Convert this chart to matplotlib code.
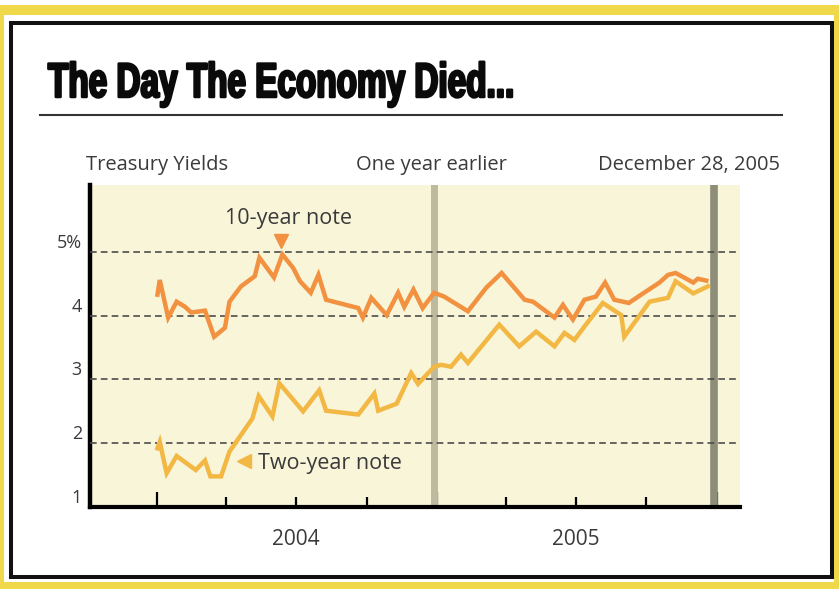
import matplotlib
matplotlib.use('Agg')
import matplotlib.dates as mdates
import matplotlib.pyplot as plt
import numpy as np

from matplotlib import patheffects
from matplotlib.lines import Line2D
from matplotlib.patches import Rectangle
from matplotlib.transforms import Affine2D, ScaledTranslation

W, H = 839, 589

plt.rcParams.update({
  'font.family': ['Open Sans', 'DejaVu Sans'],
  'text.color': '#3a3a3a',
})

# weekly-ish readings, Jan 2004 - Dec 2005
ten_dates = ['2004-01-02', '2004-01-05', '2004-01-16', '2004-01-27', '2004-02-07',
             '2004-02-15', '2004-03-04', '2004-03-16', '2004-03-30', '2004-04-05',
             '2004-04-20', '2004-05-08', '2004-05-14', '2004-06-02', '2004-06-13',
             '2004-06-27', '2004-07-06', '2004-07-20', '2004-07-30', '2004-08-09',
             '2004-09-20', '2004-09-26', '2004-10-07', '2004-10-27', '2004-11-11',
             '2004-11-19', '2004-12-01', '2004-12-13', '2004-12-28', '2005-01-10',
             '2005-02-10', '2005-03-06', '2005-03-26', '2005-04-25', '2005-05-06',
             '2005-06-03', '2005-06-14', '2005-06-27', '2005-07-12', '2005-07-27',
             '2005-08-08', '2005-08-20', '2005-09-08', '2005-09-24', '2005-10-18',
             '2005-10-29', '2005-11-08', '2005-12-01', '2005-12-07', '2005-12-18']
ten_year = [4.33, 4.56, 3.97, 4.22, 4.14, 4.05, 4.08, 3.67, 3.81, 4.22,
            4.46, 4.62, 4.91, 4.60, 4.96, 4.75, 4.54, 4.36, 4.64, 4.25,
            4.12, 3.97, 4.28, 4.01, 4.36, 4.14, 4.41, 4.12, 4.36, 4.30,
            4.07, 4.44, 4.67, 4.25, 4.22, 3.97, 4.17, 3.94, 4.25, 4.30,
            4.52, 4.25, 4.20, 4.33, 4.52, 4.64, 4.67, 4.52, 4.58, 4.55]

two_dates = ['2004-01-02', '2004-01-05', '2004-01-14', '2004-01-27', '2004-02-21',
             '2004-03-04', '2004-03-11', '2004-03-25', '2004-04-05', '2004-04-20',
             '2004-05-05', '2004-05-13', '2004-05-31', '2004-06-09', '2004-07-10',
             '2004-07-31', '2004-08-09', '2004-09-20', '2004-10-11', '2004-10-16',
             '2004-11-09', '2004-11-28', '2004-12-07', '2004-12-28', '2005-01-06',
             '2005-01-19', '2005-02-01', '2005-02-10', '2005-03-23', '2005-04-18',
             '2005-05-10', '2005-06-03', '2005-06-16', '2005-06-29', '2005-07-12',
             '2005-08-05', '2005-08-29', '2005-09-02', '2005-10-05', '2005-10-29',
             '2005-11-08', '2005-12-01', '2005-12-20']
two_year = [1.92, 2.02, 1.53, 1.80, 1.58, 1.73, 1.48, 1.48, 1.87, 2.13,
            2.39, 2.74, 2.42, 2.94, 2.50, 2.83, 2.51, 2.45, 2.78, 2.51,
            2.62, 3.10, 2.93, 3.20, 3.23, 3.20, 3.39, 3.26, 3.86, 3.52,
            3.75, 3.52, 3.73, 3.62, 3.83, 4.20, 4.01, 3.67, 4.22, 4.28,
            4.54, 4.35, 4.46]

y_ticks = [1, 2, 3, 4, 5]
y_labels = ['1', '2', '3', '4', '5%']
year_labels = ['2004', '2005']
marker_dates = ['2004-12-28', '2005-12-28']

ORANGE = '#F2913F'
YELLOW = '#F3B744'


def fx(x):
  return x / W


def fy(y):
  return 1 - y / H


class Squeeze(patheffects.AbstractPathEffect):
  """Narrow glyphs horizontally (and fatten them) for a condensed headline."""
  def __init__(self, sx, stroke=0.0):
    super().__init__()
    self.sx = sx
    self.stroke = stroke

  def draw_path(self, renderer, gc, tpath, affine, rgbFace=None):
    affine = Affine2D().scale(self.sx, 1.0) + affine
    if self.stroke:
      gc0 = renderer.new_gc()
      gc0.copy_properties(gc)
      gc0.set_linewidth(self.stroke)
      gc0.set_foreground(rgbFace)
      renderer.draw_path(gc0, tpath, affine, rgbFace)
      gc0.restore()
    else:
      renderer.draw_path(gc, tpath, affine, rgbFace)


fig = plt.figure(figsize=(W / 100, H / 100), dpi=100)
fig.patch.set_facecolor('white')

# yellow outer band + black frame, kept behind the axes
yellow = '#EFD84A'
for x0, y0, x1, y1 in [(0, 5, W, 15), (0, 5, 4, H), (834, 5, W, H), (0, 582, W, H)]:
  fig.add_artist(Rectangle((fx(x0), fy(y1)), fx(x1) - fx(x0), fy(y0) - fy(y1),
                           transform=fig.transFigure, color=yellow, lw=0, zorder=-3))
fig.add_artist(Rectangle((fx(11), fy(577)), fx(832) - fx(11), fy(23) - fy(577),
                         transform=fig.transFigure, facecolor='white',
                         edgecolor='#111111', lw=2.9, zorder=-2))

fig.text(fx(48), fy(97), 'The Day The Economy Died...', family='Liberation Sans',
         fontsize=35, fontweight='bold', color='#0a0a0a', va='baseline',
         path_effects=[Squeeze(0.685, 1.8)])
fig.add_artist(Line2D([fx(40), fx(782)], [fy(115), fy(115)], color='#333333', lw=1.5))

fig.text(fx(86), fy(165), 'Treasury Yields', ha='left', va='center', fontsize=14.5)
fig.text(fx(431), fy(165), 'One year earlier', ha='center', va='center', fontsize=14.5)
fig.text(fx(780), fy(165), 'December 28, 2005', ha='right', va='center', fontsize=14.5)

ax = fig.add_axes([fx(90), fy(507), fx(740) - fx(90), (507 - 185) / H])
ax.set_facecolor('#F8F5D9')

tdates = np.array(ten_dates, dtype='datetime64[D]')
wdates = np.array(two_dates, dtype='datetime64[D]')

ax.axvline(np.datetime64(marker_dates[0]), color='#BDBA9F', lw=5, zorder=2)
ax.axvline(np.datetime64(marker_dates[1]), color='#8E8D79', lw=5.5, zorder=2)
for v in y_ticks[1:]:
  ax.axhline(v, color='#4d4d4d', lw=1.2, dashes=(4, 2.5), zorder=3)

ax.plot(tdates, ten_year, color=ORANGE, lw=3.2, solid_joinstyle='miter', zorder=4)
ax.plot(wdates, two_year, color=YELLOW, lw=3.2, solid_joinstyle='miter', zorder=5)

ax.set_xlim(np.datetime64('2003-10-06'), np.datetime64('2006-01-31'))
ax.set_ylim(1, 6.05)

# notes
pk = int(np.argmax(ten_year))
up = ScaledTranslation(-0.017, 0.14, fig.dpi_scale_trans)
ax.plot([tdates[pk]], [ten_year[pk]], marker='v', ms=10, color=ORANGE, lw=0,
        transform=ax.transData + up, clip_on=False, zorder=6)
ax.annotate('10-year note', xy=(tdates[pk], ten_year[pk]), xytext=(6, 36),
            textcoords='offset pixels', ha='center', va='center', fontsize=15.5)
ax.plot([np.datetime64('2004-04-24')], [1.72], marker='<', ms=10, color=YELLOW,
        lw=0, zorder=6)
ax.text(np.datetime64('2004-05-12'), 1.69, 'Two-year note', ha='left',
        va='center', fontsize=15.5)

# axes styling
for side in ['top', 'right']:
  ax.spines[side].set_visible(False)
ax.spines['left'].set_linewidth(3.2)
ax.spines['bottom'].set_linewidth(3)
ax.spines['left'].set_color('black')
ax.spines['bottom'].set_color('black')

ax.xaxis.set_major_locator(mdates.YearLocator())
ax.xaxis.set_minor_locator(mdates.MonthLocator(bymonth=[4, 7, 10]))
ax.tick_params(axis='x', which='major', direction='in', length=11, width=1.6,
               color='black', labelbottom=False)
ax.tick_params(axis='x', which='minor', direction='in', length=7, width=1.6,
               color='black')
ax.set_yticks([])

lift = ScaledTranslation(-0.08, 0.09, fig.dpi_scale_trans)
for v, lab in zip(y_ticks, y_labels):
  ax.text(0, v, lab, transform=ax.get_yaxis_transform() + lift, ha='right',
          va='center', fontsize=13)

for yr in year_labels:
  ax.text(np.datetime64(yr + '-07-01'), -0.102, yr,
          transform=ax.get_xaxis_transform(), ha='center', va='center',
          fontsize=15)

plt.savefig('out.png', dpi=100)
plt.close()
